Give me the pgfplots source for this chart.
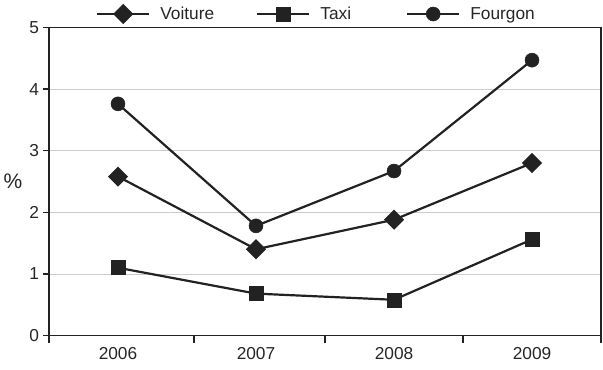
\documentclass[border=0pt]{standalone}
\usepackage{pgfplots}
\pgfplotsset{compat=1.18}
\usepackage{fontspec}
\setmainfont{Liberation Sans}
\definecolor{ink}{HTML}{222222}
\definecolor{txt}{HTML}{262626}
\begin{document}
\begin{tikzpicture}[font=\fontsize{17.3bp}{20bp}\selectfont]
\begin{axis}[
  name=ax,
  scale only axis, width=552bp, height=308bp,
  xmin=-0.5, xmax=3.5, ymin=0, ymax=5,
  xtick={0,1,2,3}, xticklabels={2006,2007,2008,2009},
  major x tick style={draw=none},
  minor xtick={-0.5,0.55,1.5,2.5,3.5},
  minor tick length=7bp,
  ytick={0,1,2,3,4,5},
  major tick length=6bp,
  tick align=outside, tick pos=left,
  ymajorgrids, grid style={black!20, line width=0.8bp},
  axis line style={ink, line width=1.3bp},
  every tick/.style={ink, line width=1.3bp},
  tick label style={text=txt},
  /pgf/number format/assume math mode=true,
  xticklabel style={yshift=-2bp},
  yticklabel style={xshift=-0.5bp},
  ylabel={\fontsize{21bp}{24bp}\selectfont\%},
  ylabel style={rotate=-90, text=txt, at={(rel axis cs:0,0.5)}, anchor=center, xshift=-36bp},
  legend columns=3,
  legend style={draw=none, fill=none, inner sep=0pt, at={([yshift=13.5bp]rel axis cs:0.085,1)}, anchor=west, text=txt,
    /tikz/every odd column/.append style={column sep=8bp},
    /tikz/every even column/.append style={column sep=40bp}},
  legend image code/.code={\draw[mark repeat=2,mark phase=2,#1] plot coordinates {(0bp,0bp) (26bp,0bp) (52bp,0bp)};},
  every axis plot/.append style={ink, line width=2.2bp, mark options={solid, fill=ink, draw=ink, line width=0.5bp}},
]
\addplot[mark=diamond*, mark size=8.5bp, mark options={xscale=1.333}] coordinates {(0,2.58) (1,1.40) (2,1.88) (3,2.80)};
\addlegendentry{Voiture}
\addplot[mark=square*, mark size=7bp] coordinates {(0,1.10) (1,0.68) (2,0.58) (3,1.56)};
\addlegendentry{Taxi\rule{13bp}{0pt}}
\addplot[mark=*, mark size=7bp] coordinates {(0,3.76) (1,1.78) (2,2.67) (3,4.47)};
\addlegendentry{Fourgon}
\end{axis}
\pgfresetboundingbox
\path (ax.south west) ++(-49bp,-34bp) coordinate (bba);
\path (ax.north east) ++(2bp,27.5bp) coordinate (bbb);
\path (bba) rectangle (bbb);
\end{tikzpicture}
\end{document}
